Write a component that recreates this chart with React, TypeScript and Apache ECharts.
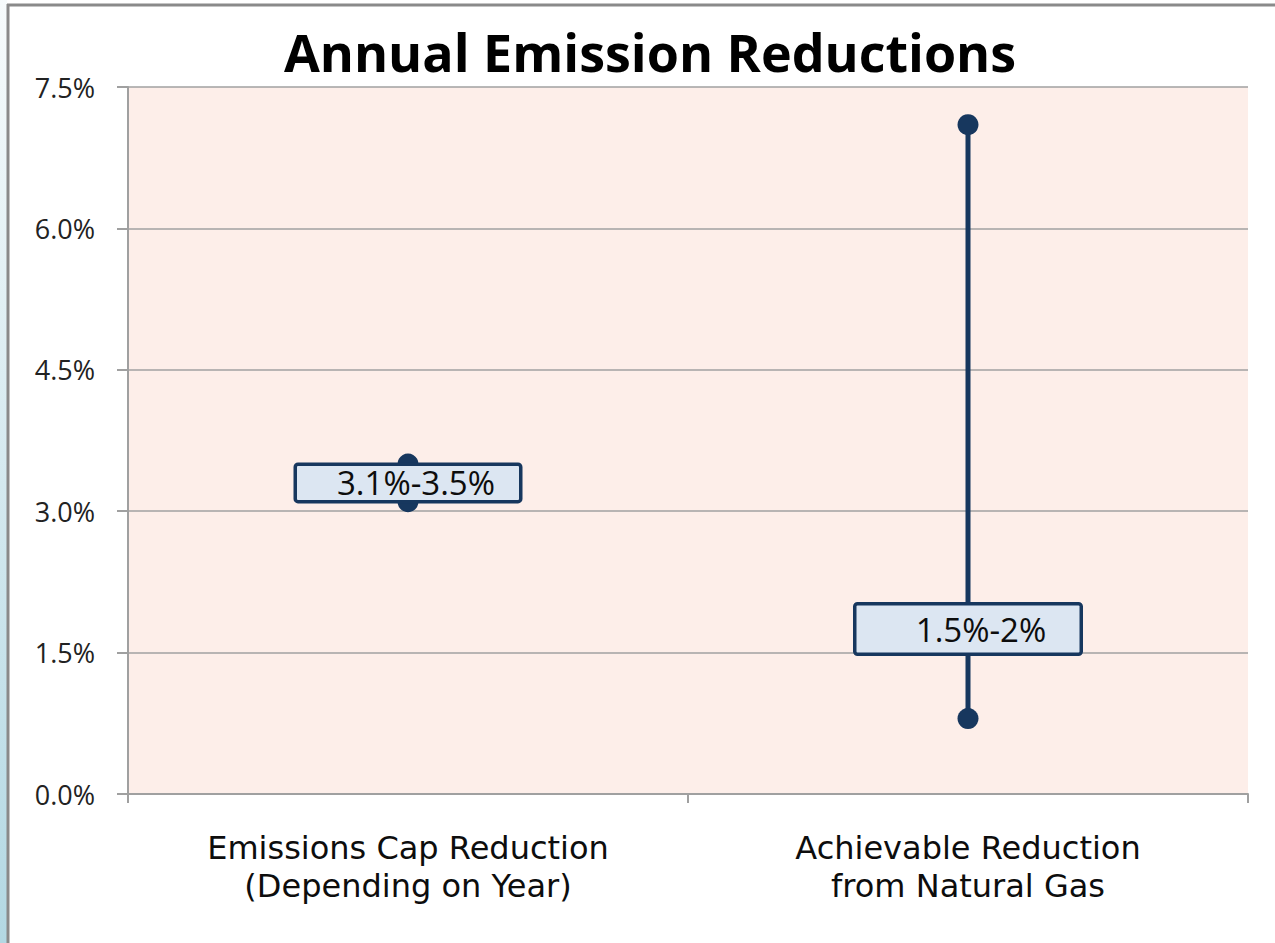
import React, { useEffect, useRef } from "react";
import * as echarts from "echarts";

const categories = ["Emissions Cap Reduction\n(Depending on Year)", "Achievable Reduction\nfrom Natural Gas"];
const lowValues = [3.1, 0.8];
const highValues = [3.5, 7.1];
const labelTexts = ["3.1%-3.5%", "1.5%-2%"];
const labelValues = [3.3, 1.75];
const yTicks = [0, 1.5, 3, 4.5, 6, 7.5];

const NAVY = "#17375e";
const FONT = "'Open Sans', 'Noto Sans', sans-serif";
const CAT_FONT = "'DejaVu Sans', 'Open Sans', sans-serif";

// label box styles (per category)
const labelBoxStyles = [
  { width: 206, height: 34, padLeft: 16 },
  { width: 197, height: 47, padLeft: 26 },
];

export default function App() {
  const ref = useRef<HTMLDivElement>(null);
  useEffect(() => {
    if (!ref.current) return;
    const chart = echarts.init(ref.current, undefined, { renderer: "svg" });
    const rangeData = categories.map((_, i) => [i, lowValues[i], highValues[i]]);
    const labelData = categories.map((_, i) => ({
      value: [i, labelValues[i]],
      itemStyle: { opacity: 1 },
      label: {
        show: true,
        position: "inside",
        formatter: labelTexts[i],
        width: labelBoxStyles[i].width,
        height: labelBoxStyles[i].height,
        padding: [0, 0, 0, labelBoxStyles[i].padLeft],
        align: "center",
        verticalAlign: "middle",
        lineHeight: labelBoxStyles[i].height,
        fontFamily: FONT,
        fontSize: 33,
        color: "#0d0d0d",
        backgroundColor: "#dce6f2",
        borderColor: NAVY,
        borderWidth: 3.5,
        borderRadius: 1,
      },
    }));
    chart.setOption({
      animation: false,
      backgroundColor: "#ffffff",
      graphic: [
        {
          type: "rect",
          shape: { x: 0, y: 0, width: 7, height: 943 },
          style: {
            fill: new echarts.graphic.LinearGradient(0, 0, 0, 1, [
              { offset: 0, color: "#f7fbfc" },
              { offset: 1, color: "#b3d8e3" },
            ]),
          },
          silent: true,
        },
        {
          type: "line",
          shape: { x1: 7, y1: 5, x2: 1275, y2: 5 },
          style: { stroke: "#8a8a8a", lineWidth: 3 },
          silent: true,
        },
        {
          type: "line",
          shape: { x1: 8, y1: 4, x2: 8, y2: 943 },
          style: { stroke: "#8a8a8a", lineWidth: 3 },
          silent: true,
        },
        {
          type: "text",
          x: 650,
          y: 51,
          style: {
            text: "Annual Emission Reductions",
            fontFamily: FONT,
            fontWeight: "bold",
            fontSize: 52,
            fill: "#000000",
            align: "center",
            verticalAlign: "middle",
          },
          silent: true,
        },
      ],
      grid: {
        left: 128,
        right: 27,
        top: 87,
        bottom: 149,
        show: true,
        backgroundColor: "#fdeee9",
        borderWidth: 0,
      },
      xAxis: {
        type: "category",
        data: categories,
        boundaryGap: true,
        axisLine: { show: true, lineStyle: { color: "#a0a0a0", width: 2 } },
        axisTick: { show: true, length: 9, lineStyle: { color: "#a0a0a0", width: 2 } },
        axisLabel: {
          fontFamily: CAT_FONT,
          fontSize: 32,
          color: "#0d0d0d",
          lineHeight: 38,
          margin: 35,
        },
        splitLine: { show: false },
      },
      yAxis: {
        type: "value",
        min: 0,
        max: 7.5,
        interval: 1.5,
        axisLine: { show: true, lineStyle: { color: "#a0a0a0", width: 2 } },
        axisTick: { show: true, length: 11, lineStyle: { color: "#a0a0a0", width: 2 } },
        axisLabel: {
          fontFamily: FONT,
          fontSize: 27,
          color: "#222222",
          margin: 33,
          formatter: (v: number) => (yTicks.includes(v) ? v.toFixed(1) + "%" : ""),
        },
        splitLine: { show: true, lineStyle: { color: "#a0a0a0", width: 1.5 } },
      },
      series: [
        {
          type: "custom",
          z: 2,
          data: rangeData,
          renderItem: (params: any, api: any) => {
            const x = api.value(0);
            const lo = api.coord([x, api.value(1)]);
            const hi = api.coord([x, api.value(2)]);
            return {
              type: "group",
              children: [
                {
                  type: "line",
                  shape: { x1: lo[0], y1: lo[1], x2: hi[0], y2: hi[1] },
                  style: { stroke: NAVY, lineWidth: 5 },
                },
                { type: "circle", shape: { cx: lo[0], cy: lo[1], r: 10.5 }, style: { fill: NAVY } },
                { type: "circle", shape: { cx: hi[0], cy: hi[1], r: 10.5 }, style: { fill: NAVY } },
              ],
            };
          },
        },
        {
          type: "scatter",
          z: 3,
          symbolSize: 0,
          itemStyle: { opacity: 1 },
          data: labelData,
        },
      ],
    });
    return () => chart.dispose();
  }, []);
  return (
    <div
      ref={ref}
      style={{ position: "fixed", left: 0, top: 0, width: 1275, height: 943 }}
    />
  );
}
